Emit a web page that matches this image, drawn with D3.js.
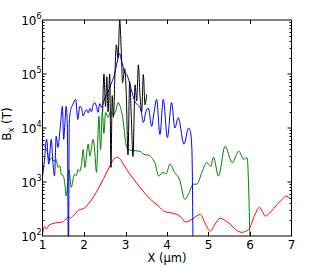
<!DOCTYPE html>
<html>
<head>
<meta charset="utf-8">
<script src="https://cdn.jsdelivr.net/npm/d3@7"></script>
<style>
  body { margin: 0; background: #fff; }
  text { font-family: "DejaVu Sans", sans-serif; }
</style>
</head>
<body>
<script>
// x positions (µm) and Bx (T) for each curve
var xRed = [1.0, 1.05, 1.1, 1.15, 1.21, 1.3, 1.4, 1.49, 1.55, 1.61, 1.67, 1.73, 1.8, 1.85, 1.95, 2.02, 2.1, 2.22, 2.36, 2.47, 2.58, 2.7, 2.78, 2.85, 2.95, 3.03, 3.2, 3.4, 3.6, 3.8, 3.95, 4.15, 4.31, 4.45, 4.6, 4.8, 4.93, 5.04, 5.16, 5.28, 5.4, 5.52, 5.65, 5.8, 5.97, 6.1, 6.23, 6.3, 6.37, 6.5, 6.65, 6.8, 6.86, 6.93, 7.0];
var bRed = [105, 150, 135, 158, 166, 174, 178, 182, 200, 224, 214, 234, 263, 295, 316, 331, 389, 513, 794, 1148, 1698, 2512, 2884, 2754, 2138, 1698, 1122, 708, 479, 355, 282, 263, 234, 182, 204, 251, 166, 123, 166, 214, 195, 166, 132, 117, 132, 229, 339, 282, 234, 282, 380, 501, 550, 525, 479];

var xGreen = [1.0, 1.05, 1.1, 1.17, 1.22, 1.28, 1.33, 1.37, 1.42, 1.45, 1.5, 1.54, 1.57, 1.64, 1.69, 1.77, 1.82, 1.85, 1.9, 1.94, 1.98, 2.02, 2.1, 2.14, 2.22, 2.26, 2.3, 2.36, 2.4, 2.44, 2.48, 2.52, 2.58, 2.64, 2.7, 2.76, 2.82, 2.88, 2.95, 3.0, 3.06, 3.2, 3.35, 3.44, 3.54, 3.71, 3.8, 3.9, 3.98, 4.07, 4.18, 4.3, 4.43, 4.52, 4.63, 4.72, 4.85, 4.96, 5.05, 5.12, 5.24, 5.4, 5.57, 5.73, 5.85, 5.93, 6.01];
var bGreen = [4786, 4571, 3981, 2455, 2818, 2399, 2630, 1862, 1995, 1380, 1318, 891, 550, 1698, 794, 1380, 1318, 1698, 1585, 2138, 3981, 1862, 5012, 3020, 6166, 3548, 1514, 16596, 3981, 19953, 7943, 19498, 15849, 19953, 17783, 19953, 29512, 23988, 12589, 5623, 3981, 3802, 3715, 3236, 3162, 2239, 1288, 1514, 1413, 2138, 1514, 1122, 479, 603, 912, 912, 1585, 2291, 1950, 2884, 1288, 4571, 2291, 3715, 2630, 2818, 30];

var xBlue = [1.0, 1.04, 1.1, 1.15, 1.21, 1.25, 1.29, 1.33, 1.37, 1.43, 1.48, 1.51, 1.54, 1.57, 1.6, 1.625, 1.645, 1.68, 1.73, 1.8, 1.85, 1.9, 1.94, 1.98, 2.02, 2.06, 2.1, 2.14, 2.18, 2.22, 2.26, 2.3, 2.34, 2.38, 2.42, 2.46, 2.5, 2.54, 2.6, 2.66, 2.72, 2.78, 2.86, 2.9, 2.94, 2.98, 3.03, 3.1, 3.16, 3.23, 3.3, 3.35, 3.39, 3.43, 3.49, 3.55, 3.63, 3.69, 3.75, 3.83, 3.91, 4.01, 4.11, 4.19, 4.27, 4.41, 4.52, 4.56, 4.6, 4.63];
var bBlue = [1259, 2239, 6166, 2138, 6166, 2291, 1288, 7079, 4365, 10715, 25119, 6166, 12589, 25119, 10000, 30, 12589, 21878, 26915, 33884, 14454, 25119, 23442, 16596, 19953, 21878, 19055, 22909, 19953, 26915, 29512, 25119, 19498, 28184, 23988, 28184, 35481, 41687, 50119, 67608, 89125, 141254, 239883, 177828, 138038, 104713, 97724, 67608, 44668, 30903, 26303, 23988, 17783, 12589, 19953, 23442, 10715, 19953, 33884, 7586, 33884, 6607, 29512, 10000, 15488, 5012, 10000, 8913, 3981, 30];

var xBlack = [2.45, 2.48, 2.52, 2.55, 2.58, 2.62, 2.65, 2.68, 2.71, 2.75, 2.78, 2.82, 2.86, 2.9, 2.93, 2.98, 3.02, 3.06, 3.1, 3.14, 3.18, 3.23, 3.27, 3.31, 3.35, 3.39, 3.43, 3.47, 3.51];
var bBlack = [19953, 100000, 25119, 89125, 19953, 100000, 1862, 39811, 15849, 125893, 346737, 199526, 1000000, 245471, 69183, 125893, 39811, 3162, 72444, 15849, 2951, 63096, 31623, 147911, 39811, 19953, 97724, 26915, 41687];

var xTicks = [1, 2, 3, 4, 5, 6, 7];
var yExps = [2, 3, 4, 5, 6];

var series = [
    { xs: xRed, ys: bRed, color: "#ff0000" },
    { xs: xGreen, ys: bGreen, color: "#008000" },
    { xs: xBlue, ys: bBlue, color: "#0000ff" },
    { xs: xBlack, ys: bBlack, color: "#000000" }
];

var W = 322, H = 267;
var pLeft = 42.5, pRight = 291.5, pTop = 20, pBottom = 236;

var svg = d3.select("body").append("svg")
    .attr("width", W)
    .attr("height", H);

var x = d3.scaleLinear().domain([1, 7]).range([pLeft, pRight]);
var y = d3.scaleLog().domain([1e2, 1e6]).range([pBottom, pTop]);

svg.append("clipPath").attr("id", "plotclip")
    .append("rect")
    .attr("x", pLeft).attr("y", pTop)
    .attr("width", pRight - pLeft).attr("height", pBottom - pTop);

var line = d3.line()
    .x(function (d) { return x(d[0]); })
    .y(function (d) { return y(d[1]); })
    .curve(d3.curveMonotoneX);

var g = svg.append("g").attr("clip-path", "url(#plotclip)");
series.forEach(function (s) {
    var pts = s.xs.map(function (v, i) { return [v, s.ys[i]]; });
    g.append("path")
        .datum(pts)
        .attr("d", line)
        .attr("fill", "none")
        .attr("stroke", s.color)
        .attr("stroke-width", 1);
});

// ticks, pointing inwards on all four sides
var ticks = svg.append("g").attr("stroke", "#000").attr("stroke-width", 1);
xTicks.forEach(function (t) {
    var px = Math.round(x(t)) + 0.5;
    if (t == 1 || t == 7) return;
    ticks.append("line").attr("x1", px).attr("x2", px).attr("y1", pBottom).attr("y2", pBottom - 4);
    ticks.append("line").attr("x1", px).attr("x2", px).attr("y1", pTop).attr("y2", pTop + 4);
});
yExps.forEach(function (e) {
    var py = y(Math.pow(10, e));
    if (e > 2 && e < 6) {
        ticks.append("line").attr("x1", pLeft).attr("x2", pLeft + 4).attr("y1", py).attr("y2", py);
        ticks.append("line").attr("x1", pRight).attr("x2", pRight - 4).attr("y1", py).attr("y2", py);
    }
    if (e == 6) return;
    for (var k = 2; k <= 9; k++) {
        var my = Math.round(y(k * Math.pow(10, e))) + 0.5;
        ticks.append("line").attr("x1", pLeft).attr("x2", pLeft + 2).attr("y1", my).attr("y2", my);
        ticks.append("line").attr("x1", pRight).attr("x2", pRight - 2).attr("y1", my).attr("y2", my);
    }
});

// frame
svg.append("rect")
    .attr("x", pLeft).attr("y", pTop)
    .attr("width", pRight - pLeft).attr("height", pBottom - pTop)
    .attr("fill", "none")
    .attr("stroke", "#000")
    .attr("stroke-width", 1);

// tick labels
svg.selectAll(".xl").data(xTicks).enter()
    .append("text")
    .attr("x", function (d) { return x(d); })
    .attr("y", 249)
    .attr("text-anchor", "middle")
    .style("font-size", "12px")
    .text(function (d) { return d; });

var yl = svg.selectAll(".yl").data(yExps).enter()
    .append("text")
    .attr("x", 41.5)
    .attr("y", function (d) { return y(Math.pow(10, d)) + 5; })
    .attr("text-anchor", "end")
    .style("font-size", "12px");
yl.append("tspan").text("10");
yl.append("tspan")
    .attr("dy", -6)
    .style("font-size", "8px")
    .text(function (d) { return d; });

// axis titles
svg.append("text")
    .attr("x", (pLeft + pRight) / 2)
    .attr("y", 262)
    .attr("text-anchor", "middle")
    .style("font-size", "11.5px")
    .text("X (\u00b5m)");

var yt = svg.append("text")
    .attr("transform", "translate(11,124) rotate(-90)")
    .attr("text-anchor", "middle")
    .style("font-size", "12px");
yt.append("tspan").text("B");
yt.append("tspan").attr("dy", 3).style("font-size", "8px").text("x");
yt.append("tspan").attr("dy", -3).text(" (T)");
</script>
</body>
</html>
